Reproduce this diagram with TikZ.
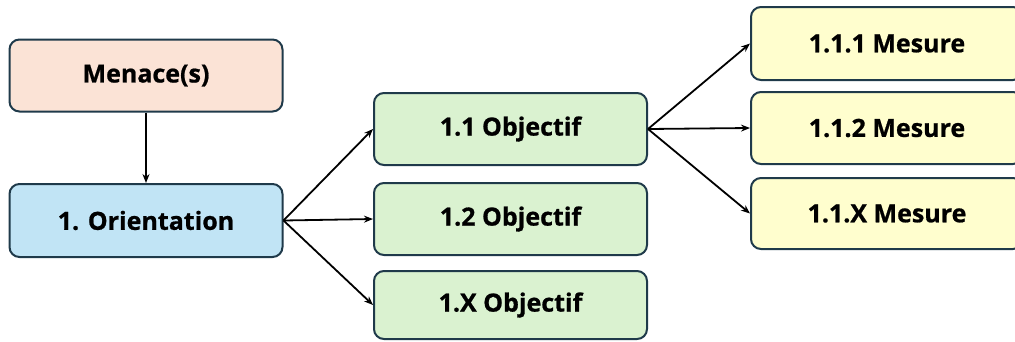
\documentclass[tikz,border=0pt]{standalone}
\usepackage{fontspec}
\setmainfont{Open Sans}[BoldFeatures={FakeBold=0.8}]
\definecolor{edge}{HTML}{1F3A4A}
\definecolor{peach}{HTML}{FBE3D6}
\definecolor{sky}{HTML}{C1E4F5}
\definecolor{mint}{HTML}{DAF2D0}
\definecolor{cream}{HTML}{FFFECE}
\tikzset{
  box/.style={draw=edge, line width=2pt, rounded corners=10pt, minimum width=273pt, minimum height=72pt, inner sep=0pt, font=\fontsize{25}{30}\selectfont\bfseries, text=black},
  conn/.style={-{Stealth[length=9pt,width=7pt]}, line width=1.8pt, black},
}
\usetikzlibrary{arrows.meta}
\begin{document}
\begin{tikzpicture}[x=1pt,y=-1pt]
\clip (0,0) rectangle (1015,341);
\fill[white] (0,0) rectangle (1015,341);
\node[box, fill=peach] (men) at (146,75.5) {Menace(s)};
\node[box, fill=sky, minimum height=73pt] (ori) at (146,220.5) {1. Orientation};
\node[box, fill=mint] (o1) at (510.5,129) {1.1 Objectif};
\node[box, fill=mint] (o2) at (510.5,219) {1.2 Objectif};
\node[box, fill=mint, minimum height=68pt] (o3) at (510.5,305) {1.X Objectif};
\node[box, fill=cream, minimum width=272pt, minimum height=73pt] (m1) at (887,43.5) {1.1.1 Mesure};
\node[box, fill=cream, minimum width=272pt] (m2) at (887,128) {1.1.2 Mesure};
\node[box, fill=cream, minimum width=272pt, minimum height=71pt] (m3) at (887,213.5) {1.1.X Mesure};
\draw[conn] (men.south) -- (ori.north);
\draw[conn] (ori.east) -- (o1.west);
\draw[conn] (ori.east) -- (o2.west);
\draw[conn] (ori.east) -- (o3.west);
\draw[conn] (o1.east) -- (m1.west);
\draw[conn] (o1.east) -- (m2.west);
\draw[conn] (o1.east) -- (m3.west);
\end{tikzpicture}
\end{document}
